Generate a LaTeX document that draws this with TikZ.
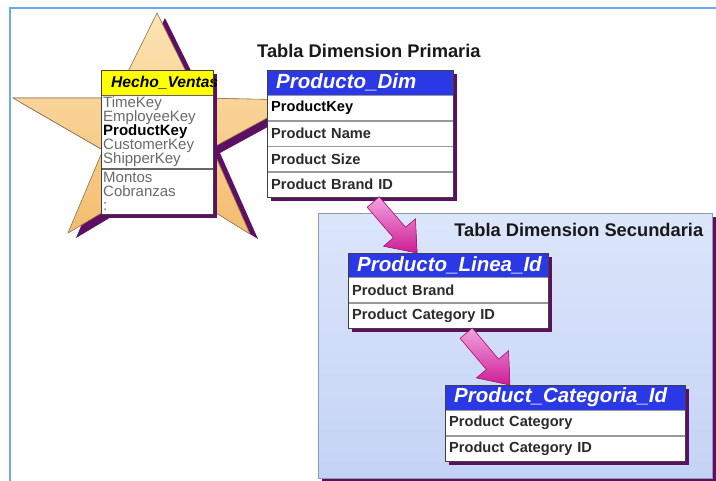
\documentclass[tikz,border=0pt]{standalone}
\usepackage{fontspec}
\setmainfont{Liberation Sans}
\usetikzlibrary{calc,backgrounds}
\definecolor{frameblue}{HTML}{6FA8E8}
\definecolor{hdrblue}{HTML}{2B38E6}
\definecolor{hdryellow}{HTML}{FFFF00}
\definecolor{shadowpurple}{HTML}{5C0F63}
\definecolor{starlight}{HTML}{FCE4B4}
\definecolor{stardark}{HTML}{F4BC6E}
\definecolor{staredge}{HTML}{9C7C50}
\definecolor{panellight}{HTML}{DCE6FB}
\definecolor{paneldark}{HTML}{C4D3F5}
\definecolor{paneledge}{HTML}{8C9CB4}
\definecolor{arrowlight}{HTML}{F3A2DF}
\definecolor{arrowdark}{HTML}{CC1E96}
\definecolor{arrowedge}{HTML}{B0187E}
\definecolor{fieldgray}{HTML}{6A6A6A}
\definecolor{rowtext}{HTML}{2A2A2A}
\pgfdeclarelayer{back}
\pgfdeclarelayer{shade}
\pgfsetlayers{back,shade,main}
\begin{document}
\begin{tikzpicture}[x=1pt,y=-1pt,
  hdr/.style={draw=black!75, fill=hdrblue, text=white,
    font=\bfseries\itshape\fontsize{20.5}{22}\selectfont,
    minimum height=25pt, inner xsep=9pt, inner ysep=0pt,
    anchor=north west, align=left},
  fld/.style={draw=black!40, fill=white, text=rowtext,
    font=\bfseries\fontsize{14.6}{16}\selectfont,
    minimum height=25pt, inner xsep=4pt, inner ysep=0pt,
    anchor=north west, align=left},
  hvhdr/.style={draw=black!70, fill=hdryellow, text=black,
    font=\bfseries\itshape\fontsize{15.6}{17}\selectfont,
    minimum height=25pt, inner xsep=10pt, inner ysep=0pt,
    anchor=north west, align=left, text width=92pt},
  hvbody/.style={draw=black!60, fill=white, text=fieldgray,
    anchor=north west, text width=108pt, inner xsep=2pt,
    inner ysep=1pt, align=left, font=\fontsize{15}{14}\selectfont},
  title/.style={font=\bfseries\fontsize{18.3}{20}\selectfont,
    text=black!90, inner sep=0pt},
  tshadow/.style={fill=shadowpurple},
  outline/.style={draw=black!75, line width=0.8pt},
  blockarrow/.style={draw=arrowedge, line width=0.6pt,
    top color=arrowlight, bottom color=arrowdark}]
\useasboundingbox (0,0) rectangle (716,481);

\begin{pgfonlayer}{back}
  \fill[white] (0,0) rectangle (716,481);
  % star shadow and star
  \fill[shadowpurple, shift={(8,5)}]
    (157,13) -- (199,98) -- (300,100) -- (212,148) -- (250,234)
    -- (160,178) -- (68,233) -- (103,150) -- (13,98) -- (115,98) -- cycle;
  \filldraw[draw=staredge, line width=0.6pt, top color=starlight, bottom color=stardark]
    (157,13) -- (199,98) -- (300,100) -- (212,148) -- (250,234)
    -- (160,178) -- (68,233) -- (103,150) -- (13,98) -- (115,98) -- cycle;
  % secondary panel
  \fill[shadowpurple] (322,217) rectangle (716,482);
  \node[draw=paneledge, top color=panellight, bottom color=paneldark,
    minimum width=394pt, minimum height=265pt, inner sep=0pt,
    anchor=north west] (sec) at (318,213) {};
\end{pgfonlayer}

% frame
\draw[frameblue, line width=1.6pt] (10,481) -- (10,8) -- (716,8);

% titles
\node[title, anchor=west] (t1) at (257,51) {Tabla Dimension Primaria};
\node[title, anchor=east] (t2) at ($(sec.north east)+(-9,17)$) {Tabla Dimension Secundaria};

% Hecho_Ventas
\node[hvhdr] (hvh) at (101,70) {Hecho\_Ventas};
\node[hvbody, minimum height=73pt] (hvk) at (hvh.south west)
  {TimeKey\\EmployeeKey\\{\color{black}\bfseries ProductKey}\\CustomerKey\\ShipperKey};
\node[hvbody, minimum height=45pt] (hvm) at (hvk.south west)
  {Montos\\Cobranzas\\:};
\draw[outline] (hvh.north west) rectangle (hvm.south east);

% Producto_Dim
\node[hdr, text width=168pt] (pdh) at (267,70) {Producto\_Dim};
\node[fld, text width=178pt, text=black] (pd1) at (pdh.south west) {ProductKey};
\node[fld, text width=178pt] (pd2) at (pd1.south west) {Product Name};
\node[fld, text width=178pt] (pd3) at (pd2.south west) {Product Size};
\node[fld, text width=178pt] (pd4) at (pd3.south west) {Product Brand ID};
\draw[outline] (pdh.north west) rectangle (pd4.south east);

% Producto_Linea_Id
\node[hdr, text width=182pt, minimum height=24pt] (plh) at (348,253) {Producto\_Linea\_Id};
\node[fld, text width=192pt] (pl1) at (plh.south west) {Product Brand};
\node[fld, text width=192pt] (pl2) at (pl1.south west) {Product Category ID};
\draw[outline] (plh.north west) rectangle (pl2.south east);

% Product_Categoria_Id
\node[hdr, text width=222pt] (pch) at (445,385) {Product\_Categoria\_Id};
\node[fld, text width=232pt] (pc1) at (pch.south west) {Product Category};
\node[fld, text width=232pt] (pc2) at (pc1.south west) {Product Category ID};
\draw[outline] (pch.north west) rectangle (pc2.south east);

% table shadows
\begin{pgfonlayer}{shade}
  \fill[tshadow] ($(hvh.north west)+(4,4)$) rectangle ($(hvm.south east)+(4,4)$);
  \fill[tshadow] ($(pdh.north west)+(4,4)$) rectangle ($(pd4.south east)+(4,4)$);
  \fill[tshadow] ($(plh.north west)+(4,4)$) rectangle ($(pl2.south east)+(4,4)$);
  \fill[tshadow] ($(pch.north west)+(4,4)$) rectangle ($(pc2.south east)+(4,4)$);
\end{pgfonlayer}

% block arrows
\coordinate (a1s) at ($(pd4.south west)!0.57!(pd4.south east)+(0,5)$);
\coordinate (a1e) at ($(plh.north west)!0.345!(plh.north east)$);
\coordinate (a1b) at ($(a1e)!27pt!(a1s)$);
\filldraw[blockarrow]
  ($(a1s)!8pt!90:(a1e)$) -- ($(a1b)!8pt!90:(a1e)$) -- ($(a1b)!21pt!90:(a1e)$)
  -- (a1e) -- ($(a1b)!21pt!-90:(a1e)$) -- ($(a1b)!8pt!-90:(a1e)$)
  -- ($(a1s)!8pt!-90:(a1e)$) -- cycle;
\coordinate (a2s) at ($(pl2.south west)!0.59!(pl2.south east)+(0,5)$);
\coordinate (a2e) at ($(pch.north west)!0.27!(pch.north east)$);
\coordinate (a2b) at ($(a2e)!27pt!(a2s)$);
\filldraw[blockarrow]
  ($(a2s)!8pt!90:(a2e)$) -- ($(a2b)!8pt!90:(a2e)$) -- ($(a2b)!21pt!90:(a2e)$)
  -- (a2e) -- ($(a2b)!21pt!-90:(a2e)$) -- ($(a2b)!8pt!-90:(a2e)$)
  -- ($(a2s)!8pt!-90:(a2e)$) -- cycle;
\end{tikzpicture}
\end{document}
